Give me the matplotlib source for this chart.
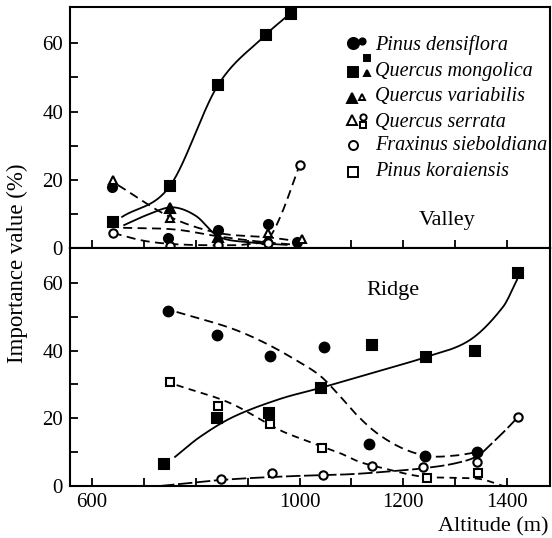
import numpy as np
import matplotlib
matplotlib.use("Agg")
import matplotlib.pyplot as plt
from matplotlib.ticker import FixedLocator

plt.rcParams["font.family"] = ["Liberation Serif", "DejaVu Serif"]

# ---- Valley: observed points (altitude m, importance value %)
v_dens_alt = [638, 746, 843, 939, 995]
v_dens_val = [18.0, 3.0, 5.4, 7.1, 1.9]
v_mong_alt = [640, 750, 843, 935, 983]
v_mong_val = [7.7, 18.2, 47.8, 62.5, 68.6]
v_vari_alt = [750, 843, 940]
v_vari_val = [11.7, 3.2, 2.7]
v_serr_alt = [640, 750, 940, 1004]
v_serr_val = [20.0, 8.8, 4.4, 2.7]
v_frax_alt = [640, 750, 843, 940, 1000]
v_frax_val = [4.6, 0.7, 1.0, 1.5, 24.4]

# ---- Valley: hand-drawn trend curves
vc_mong_alt = [658, 750, 843, 935, 978]
vc_mong_val = [9.2, 18.2, 47.8, 62.5, 68.2]
vc_vari_alt = [662, 710, 755, 800, 843, 900, 975]
vc_vari_val = [6.8, 10.0, 12.0, 9.5, 3.5, 1.8, 1.0]
vc_serr_alt = [650, 750, 843, 940, 1000]
vc_serr_val = [18.5, 9.2, 4.5, 3.2, 2.0]
vc_dens_alt = [660, 760, 843, 920, 995]
vc_dens_val = [6.0, 5.5, 3.5, 2.0, 1.0]
vc_frax_alt = [640, 700, 760, 843, 900, 940, 965, 1000]
vc_frax_val = [4.5, 2.2, 1.2, 0.9, 1.2, 3.0, 10.0, 24.4]

# ---- Ridge: observed points
r_dens_alt = [746, 841, 943, 1047, 1134, 1242, 1342]
r_dens_val = [51.7, 44.6, 38.4, 41.1, 12.4, 8.9, 10.0]
r_mong_alt = [739, 841, 941, 1041, 1139, 1244, 1338, 1421]
r_mong_val = [6.5, 20.1, 21.6, 29.0, 41.7, 38.1, 39.9, 62.9]
r_kora_alt = [750, 843, 943, 1043, 1245, 1344]
r_kora_val = [30.7, 23.6, 18.3, 11.2, 2.4, 3.8]
r_frax_alt = [848, 947, 1045, 1139, 1238, 1342, 1421]
r_frax_val = [2.1, 3.8, 3.2, 5.9, 5.6, 7.1, 20.4]

# ---- Ridge: trend curves
rc_dens_alt = [763, 866, 930, 995, 1040, 1075, 1110, 1150, 1200, 1250, 1300, 1342]
rc_dens_val = [51.4, 46.7, 42.5, 37.0, 32.5, 27.0, 21.0, 15.5, 11.0, 8.8, 9.0, 10.0]
rc_mong_alt = [760, 808, 872, 962, 1041, 1174, 1244, 1328, 1392, 1419]
rc_mong_val = [8.6, 14.5, 20.4, 25.7, 29.0, 34.9, 38.1, 43.1, 52.9, 60.9]
rc_kora_alt = [763, 866, 962, 1020, 1078, 1116, 1168, 1218, 1250, 1303, 1350, 1392]
rc_kora_val = [29.8, 24.5, 16.5, 13.0, 9.7, 7.1, 5.0, 3.2, 2.6, 2.4, 2.0, 0.0]
rc_frax_alt = [731, 827, 900, 1000, 1100, 1180, 1242, 1300, 1342, 1370, 1400, 1421]
rc_frax_val = [0.0, 1.5, 2.3, 3.0, 3.5, 4.4, 5.3, 6.7, 8.8, 12.5, 17.0, 20.4]

xticks = [600, 700, 800, 900, 1000, 1100, 1200, 1300, 1400]
xtick_labels = ["600", "", "", "", "1000", "", "1200", "", "1400"]

legend_names = ["Pinus densiflora", "Quercus mongolica", "Quercus variabilis",
                "Quercus serrata", "Fraxinus sieboldiana", "Pinus koraiensis"]

W, H = 552, 538


def smooth(xp, yp, n=240):
    # cardinal (Catmull-Rom style) cubic through the read-off curve nodes
    x = np.asarray(xp, float)
    y = np.asarray(yp, float)
    h = np.diff(x)
    m = np.empty_like(y)
    m[1:-1] = (y[2:] - y[:-2]) / (x[2:] - x[:-2])
    m[0] = (y[1] - y[0]) / h[0]
    m[-1] = (y[-1] - y[-2]) / h[-1]
    xs = np.linspace(x[0], x[-1], n)
    i = np.clip(np.searchsorted(x, xs) - 1, 0, len(h) - 1)
    t = (xs - x[i]) / h[i]
    ys = ((2 * t**3 - 3 * t**2 + 1) * y[i] + (t**3 - 2 * t**2 + t) * h[i] * m[i]
          + (-2 * t**3 + 3 * t**2) * y[i + 1] + (t**3 - t**2) * h[i] * m[i + 1])
    return xs, ys


def curve(ax, xp, yp, dashes=None):
    xs, ys = smooth(xp, yp)
    ln, = ax.plot(xs, ys, color="black", lw=1.3, zorder=2)
    if dashes:
        ln.set_dashes(dashes)


def pts(ax, x, y, marker, filled=True, ms=7):
    ax.plot(x, y, ls="none", marker=marker, ms=ms, mec="black", mew=1.5,
            mfc="black" if filled else "white", zorder=3)


fig = plt.figure(figsize=(W / 100, H / 100), dpi=100)
ax_v = fig.add_axes([70 / W, 1 - 248.3 / H, 480 / W, 241.3 / H])
ax_r = fig.add_axes([70 / W, 1 - 486 / H, 480 / W, 237.7 / H])

# valley
curve(ax_v, vc_mong_alt, vc_mong_val)
curve(ax_v, vc_vari_alt, vc_vari_val)
curve(ax_v, vc_serr_alt, vc_serr_val, (5, 3))
curve(ax_v, vc_dens_alt, vc_dens_val, (5, 3))
curve(ax_v, vc_frax_alt, vc_frax_val, (5, 3))
pts(ax_v, v_mong_alt, v_mong_val, "s", ms=6.5)
pts(ax_v, v_dens_alt, v_dens_val, "o", ms=6.5)
pts(ax_v, v_vari_alt, v_vari_val, "^", ms=6.5)
pts(ax_v, v_serr_alt, v_serr_val, "^", filled=False, ms=6)
pts(ax_v, v_frax_alt, v_frax_val, "o", filled=False, ms=6)

# ridge
curve(ax_r, rc_dens_alt, rc_dens_val, (5, 3))
curve(ax_r, rc_mong_alt, rc_mong_val)
curve(ax_r, rc_kora_alt, rc_kora_val, (4, 3))
curve(ax_r, rc_frax_alt, rc_frax_val, (8, 2))
pts(ax_r, r_dens_alt, r_dens_val, "o", ms=7)
pts(ax_r, r_mong_alt, r_mong_val, "s", ms=6.5)
pts(ax_r, r_kora_alt, r_kora_val, "s", filled=False, ms=6)
pts(ax_r, r_frax_alt, r_frax_val, "o", filled=False, ms=6)

for ax, top in ((ax_v, 70.6), (ax_r, 70.2)):
    ax.set_xlim(557.6, 1482.5)
    ax.set_ylim(0, top)
    ax.yaxis.set_major_locator(FixedLocator([0, 20, 40, 60]))
    ax.yaxis.set_minor_locator(FixedLocator([10, 30, 50]))
    ax.xaxis.set_major_locator(FixedLocator(xticks))
    ax.tick_params(which="both", direction="in", length=6, width=1.3,
                   labelsize=15, pad=5)
    for s in ax.spines.values():
        s.set_linewidth(1.5)

ax_v.set_xticklabels([])
ax_r.set_xticklabels(xtick_labels)

fig.text(17 / W, 1 - 263 / H, "Importance value (%)", rotation=90,
         ha="center", va="center", fontsize=16.5)
fig.text(549 / W, 1 - 527 / H, "Altitude (m)", ha="right", va="center",
         fontsize=16)
fig.text(447 / W, 1 - 220 / H, "Valley", ha="center", va="center", fontsize=16)
fig.text(393 / W, 1 - 290 / H, "Ridge", ha="center", va="center", fontsize=16)

# legend (drawn in figure pixels, as in the scan)
row_y = [45, 71.5, 97, 122, 146, 172]
for name, y in zip(legend_names, row_y):
    fig.text(375 / W, 1 - y / H, name, style="italic", ha="left",
             va="center", fontsize=14.5)

legend_marks = [
    (352.7, 43.3, "o", True, 8), (361.7, 40.7, "o", True, 4.5),
    (352.7, 71.7, "s", True, 7), (366.7, 57.5, "s", True, 4.5),
    (366.7, 73.3, "^", True, 4.5),
    (351.7, 98.3, "^", True, 7.5), (361.7, 96.7, "^", False, 5),
    (351.7, 120.0, "^", False, 7), (363.3, 116.7, "o", False, 4.5),
    (363.3, 125.0, "s", False, 4.5),
    (353.3, 145.0, "o", False, 6.5),
    (353.3, 171.7, "s", False, 6.5),
]
for x, y, mk, filled, ms in legend_marks:
    fig.lines.append(plt.Line2D([x / W], [1 - y / H], transform=fig.transFigure,
                                ls="none", marker=mk, ms=ms, mec="black",
                                mew=1.4, mfc="black" if filled else "white"))

fig.savefig("out.png", dpi=100)
